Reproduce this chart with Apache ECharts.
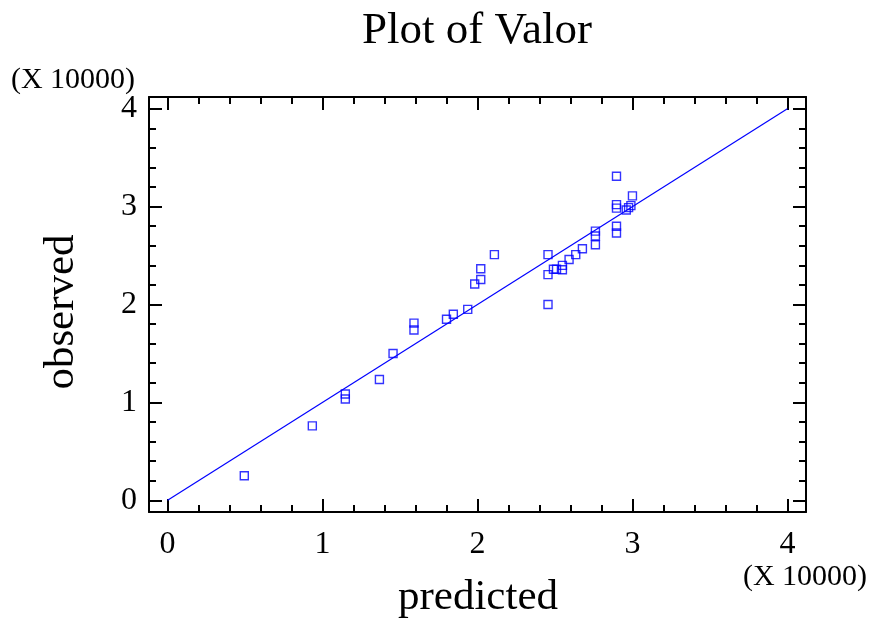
<!DOCTYPE html>
<html>
<head>
<meta charset="utf-8">
<script src="https://cdn.jsdelivr.net/npm/echarts@6/dist/echarts.min.js"></script>
<style>
html,body{margin:0;padding:0;background:#fff;}
#chart{width:870px;height:625px;}
</style>
</head>
<body>
<div id="chart"></div>
<script>
// Data (actual units; axes display in units of 10000)
var predicted = [4950, 9340, 11470, 11470, 13670, 14550, 15900, 15900, 18000, 18440,
                 19370, 19820, 20210, 20210, 21090, 24550, 24550, 24550, 24900, 25100,
                 25480, 25480, 25910, 26340, 26770, 27610, 27610, 27610, 28970, 28970,
                 28970, 28970, 28970, 29600, 29750, 29900, 30000];
var observed  = [2500, 7600, 10850, 10350, 12330, 15000, 18100, 17400, 18500, 19000,
                 19500, 22100, 22550, 23650, 25100, 25100, 23050, 20000, 23600, 23600,
                 24000, 23550, 24600, 25100, 25700, 27500, 27000, 26100, 33100, 30200,
                 29850, 28000, 27300, 29650, 29900, 30100, 31100];
var refLineX = [0, 40000];
var refLineY = [0, 40000];
var majorTicks = [0, 10000, 20000, 30000, 40000];
var minorTicks = [];
for (var t = 0; t <= 40000; t += 2000) minorTicks.push(t);
var titleText = 'Plot of Valor';
var xName = 'predicted';
var yName = 'observed';
var scaleText = '(X 10000)';

var FONT = '"Liberation Serif", "Times New Roman", serif';
var AXMIN = -1200, AXMAX = 41200;

function makeAxis(pos, kind, withLabel) {
  var major = kind === 'major';
  return {
    type: 'value', position: pos, min: AXMIN, max: AXMAX,
    axisLine: { show: major, onZero: false, lineStyle: { color: '#000', width: 2 } },
    axisTick: { show: true, inside: true, length: major ? 13 : 7,
                customValues: major ? majorTicks : minorTicks,
                lineStyle: { color: '#000', width: 2 } },
    axisLabel: withLabel ? {
      show: true, customValues: majorTicks,
      formatter: function (v) { return String(Math.round(v / 10000)); },
      fontFamily: FONT, fontSize: 32, color: '#000',
      margin: (pos === 'bottom') ? 17 : 12
    } : { show: false },
    splitLine: { show: false }
  };
}

var pairs = predicted.map(function (p, i) { return [p, observed[i]]; });
var linePts = refLineX.map(function (x, i) { return [x, refLineY[i]]; });

var chart = echarts.init(document.getElementById('chart'), null, { renderer: 'canvas' });
chart.setOption({
  animation: false,
  backgroundColor: '#fff',
  grid: { left: 149, top: 97, width: 657, height: 415, containLabel: false },
  xAxis: [
    makeAxis('bottom', 'major', true),
    makeAxis('bottom', 'minor', false),
    makeAxis('top', 'major', false),
    makeAxis('top', 'minor', false)
  ],
  yAxis: [
    makeAxis('left', 'major', true),
    makeAxis('left', 'minor', false),
    makeAxis('right', 'major', false),
    makeAxis('right', 'minor', false)
  ],
  graphic: [
    { type: 'text', x: 477, y: 31, style: { text: titleText, font: '45px ' + FONT, fill: '#000', align: 'center', verticalAlign: 'middle' } },
    { type: 'text', x: 73, y: 80, style: { text: scaleText, font: '30px ' + FONT, fill: '#000', align: 'center', verticalAlign: 'middle' } },
    { type: 'text', x: 805, y: 577, style: { text: scaleText, font: '30px ' + FONT, fill: '#000', align: 'center', verticalAlign: 'middle' } },
    { type: 'text', x: 478, y: 598, style: { text: xName, font: '43px ' + FONT, fill: '#000', align: 'center', verticalAlign: 'middle' } },
    { type: 'text', x: 62, y: 312, rotation: Math.PI / 2, style: { text: yName, font: '43px ' + FONT, fill: '#000', align: 'center', verticalAlign: 'middle' } }
  ],
  series: [
    {
      type: 'line', xAxisIndex: 0, yAxisIndex: 0, data: linePts,
      showSymbol: false, symbol: 'none',
      lineStyle: { color: '#0000ff', width: 1.2 }, silent: true
    },
    {
      type: 'scatter', xAxisIndex: 0, yAxisIndex: 0, data: pairs,
      symbol: 'rect', symbolSize: 8,
      itemStyle: { color: 'rgba(0,0,0,0)', borderColor: '#0000ff', borderWidth: 1.4 }
    }
  ]
});
</script>
</body>
</html>
